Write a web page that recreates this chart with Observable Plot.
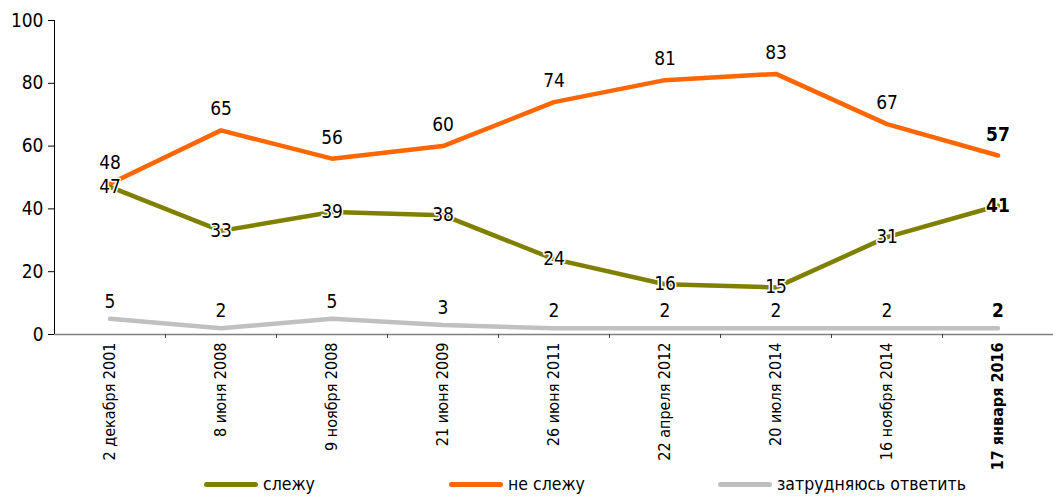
<!DOCTYPE html>
<html><head><meta charset="utf-8">
<script src="https://cdn.jsdelivr.net/npm/d3@7"></script>
<script src="https://cdn.jsdelivr.net/npm/@observablehq/plot@0.6"></script>
<style>
body{margin:0;background:#fff;font-family:"Liberation Sans Narrow","DejaVu Sans Condensed",sans-serif;}
#legend{display:flex;height:28px;align-items:center;font-size:17.5px;color:#000;}
.item{position:absolute;display:flex;align-items:center;}
.sw{display:inline-block;width:54px;height:5px;border-radius:3px;margin-right:5px;}
</style>
</head><body><div id="chart"></div><div id="legend" style="position:relative"></div><script>
const dates = ["2 декабря 2001","8 июня 2008","9 ноября 2008","21 июня 2009","26 июня 2011","22 апреля 2012","20 июля 2014","16 ноября 2014","17 января 2016"];
const follow = [47,33,39,38,24,16,15,31,41];
const notFollow = [48,65,56,60,74,81,83,67,57];
const hard = [5,2,5,3,2,2,2,2,2];
const seriesNames = ["слежу","не слежу","затрудняюсь ответить"];
const colors = ["#808000","#FF6600","#C0C0C0"];
const yTicks = [0,20,40,60,80,100];

const font = '"Liberation Sans Narrow","DejaVu Sans Condensed",sans-serif';
const rows = (vals) => vals.map((v,i)=>({i, v, last: i===vals.length-1}));
const F = rows(follow), N = rows(notFollow), H = rows(hard);
const idx = d3.range(dates.length);

const labels = (data, dy, bold) => Plot.text(data.filter(d=>d.last===bold), {
  x:"i", y:"v", text:d=>String(d.v), dy, fontSize:19, fontWeight: bold?"bold":"normal",
  fill:"#000", stroke:"white", strokeWidth:3, paintOrder:"stroke"
});

const chart = Plot.plot({
  width:1053, height:472,
  marginLeft:54, marginRight:0, marginTop:20, marginBottom:138,
  style:{fontFamily:font, fontSize:"16px", background:"#fff", color:"#000"},
  x:{type:"linear", domain:[-0.5, dates.length-0.5]},
  y:{domain:[0,100]},
  marks:[
    Plot.axisY({ticks:yTicks, tickSize:6, tickPadding:5, fontSize:19, label:null}),
    Plot.ruleX([-0.5], {stroke:"#000", strokeWidth:1}),
    Plot.ruleY([0], {stroke:"#808080", strokeWidth:1.5}),
    Plot.axisX({ticks:idx.slice(1).map(i=>i-0.5), tickSize:4, tickFormat:()=>"", label:null, stroke:"#404040"}),
    Plot.axisX({ticks:idx.slice(0,-1), tickSize:0, tickPadding:8, tickRotate:-90, tickFormat:i=>dates[i], fontSize:16, label:null}),
    Plot.axisX({ticks:[dates.length-1], tickSize:0, tickPadding:8, tickRotate:-90, tickFormat:i=>dates[i], fontSize:16, fontWeight:"bold", label:null}),
    Plot.line(H, {x:"i", y:"v", stroke:colors[2], strokeWidth:4.5}),
    Plot.line(N, {x:"i", y:"v", stroke:colors[1], strokeWidth:4.5}),
    Plot.line(F, {x:"i", y:"v", stroke:colors[0], strokeWidth:4.5}),
    labels(N, -21, false), labels(N, -21, true),
    labels(F, 0, false), labels(F, 0, true),
    labels(H, -17, false), labels(H, -17, true)
  ]
});
document.getElementById("chart").appendChild(chart);

const lg = document.getElementById("legend");
const lefts = [204, 449, 718];
seriesNames.forEach((name,k)=>{
  const it = document.createElement("div");
  it.className="item";
  it.style.left = lefts[k]+"px";
  it.style.top = "2px";
  it.innerHTML = `<span class="sw" style="background:${colors[k]}"></span><span>${name}</span>`;
  lg.appendChild(it);
});
</script></body></html>
